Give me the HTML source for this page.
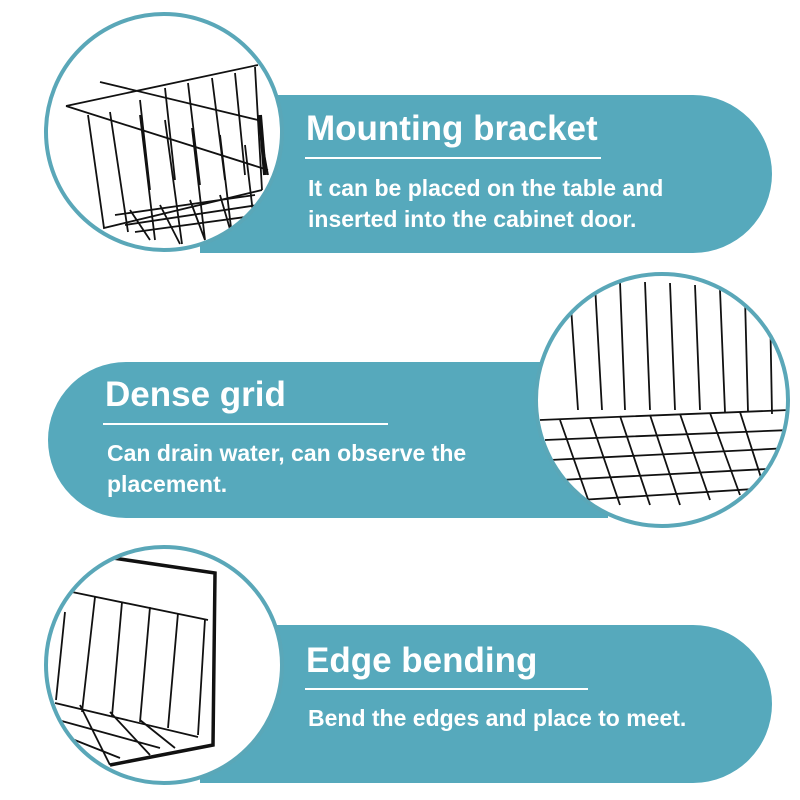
<!DOCTYPE html>
<html><head><meta charset="utf-8"><style>
html,body{margin:0;padding:0;background:#fff}
#c{position:relative;width:800px;height:800px;overflow:hidden;font-family:"Liberation Sans",sans-serif;color:#fff}
.pill{position:absolute;background:#56a9bc}
.t{position:absolute;font-weight:bold;font-size:35px;white-space:nowrap}
.l{position:absolute;height:2px;background:#fff}
.b{position:absolute;font-size:23px;font-weight:bold;line-height:31px;white-space:nowrap}
</style></head><body><div id="c">
<div class="pill" style="left:200px;top:95px;width:572px;height:158px;border-radius:0 79px 79px 0"></div>
<div class="pill" style="left:48px;top:362px;width:560px;height:156px;border-radius:78px 0 0 78px"></div>
<div class="pill" style="left:200px;top:625px;width:572px;height:158px;border-radius:0 79px 79px 0"></div>
<svg width="800" height="800" style="position:absolute;left:0;top:0" fill="none" stroke="#111" stroke-width="1.8">
<defs>
<clipPath id="c1"><circle cx="164" cy="132" r="116"/></clipPath>
<clipPath id="c2"><circle cx="662" cy="400" r="124"/></clipPath>
<clipPath id="c3"><circle cx="164" cy="665" r="116"/></clipPath>
</defs>
<circle cx="164" cy="132" r="118" fill="#fff" stroke="#5aa7b8" stroke-width="4"/>
<circle cx="662" cy="400" r="126" fill="#fff" stroke="#5aa7b8" stroke-width="4"/>
<circle cx="164" cy="665" r="118" fill="#fff" stroke="#5aa7b8" stroke-width="4"/>
<g clip-path="url(#c1)">
<path d="M66 106 L258 65 M66 106 L268 170 M100 82 L258 120 L268 175"/>
<path d="M260 115 L265 175" stroke-width="4"/>
<path d="M88 115 L104 228 L262 190 M110 112 L128 232 M140 115 L155 240 M165 120 L182 244 M192 128 L205 240 M220 135 L232 236 M245 145 L255 230 M140 100 L150 190 M165 88 L175 180 M188 83 L200 185 M212 78 L225 180 M235 73 L245 175 M255 67 L262 190 M115 215 L255 195 M125 225 L258 205 M135 232 L260 215 M130 210 L150 240 M160 205 L180 244 M190 200 L205 240 M220 195 L232 236"/>
</g>
<g clip-path="url(#c2)">
<path d="M570 292 L578 410 M595 285 L602 410 M620 282 L625 410 M645 282 L650 410 M670 283 L675 410 M695 285 L700 410 M720 290 L725 412 M745 298 L748 412 M770 305 L772 414"/>
<path d="M540 420 L790 410 M545 440 L790 430 M550 460 L790 448 M560 480 L785 468 M580 500 L770 488"/>
<path d="M560 420 L590 505 M590 418 L620 505 M620 416 L650 505 M650 415 L680 505 M680 414 L710 500 M710 413 L740 495 M740 412 L765 490"/>
</g>
<g clip-path="url(#c3)">
<path d="M113 558 L215 573 L213 745 L110 765" stroke-width="3.5"/>
<path d="M72 592 L208 620 M65 612 L56 700 M95 597 L82 712 M122 602 L112 716 M150 607 L140 722 M178 613 L168 728 M205 619 L198 735 M55 703 L198 737 M58 720 L160 748 M62 735 L120 758 M80 705 L110 765 M110 712 L150 755 M140 720 L175 748"/>
</g>
</svg>
<div class="t" style="left:306px;top:109px">Mounting bracket</div>
<div class="l" style="left:305px;top:157px;width:296px"></div>
<div class="b" style="left:308px;top:173px">It can be placed on the table and<br>inserted into the cabinet door.</div>
<div class="t" style="left:105px;top:375px">Dense grid</div>
<div class="l" style="left:103px;top:423px;width:285px"></div>
<div class="b" style="left:107px;top:438px">Can drain water, can observe the<br>placement.</div>
<div class="t" style="left:306px;top:641px">Edge bending</div>
<div class="l" style="left:305px;top:688px;width:283px"></div>
<div class="b" style="left:308px;top:703px">Bend the edges and place to meet.</div>
</div></body></html>
